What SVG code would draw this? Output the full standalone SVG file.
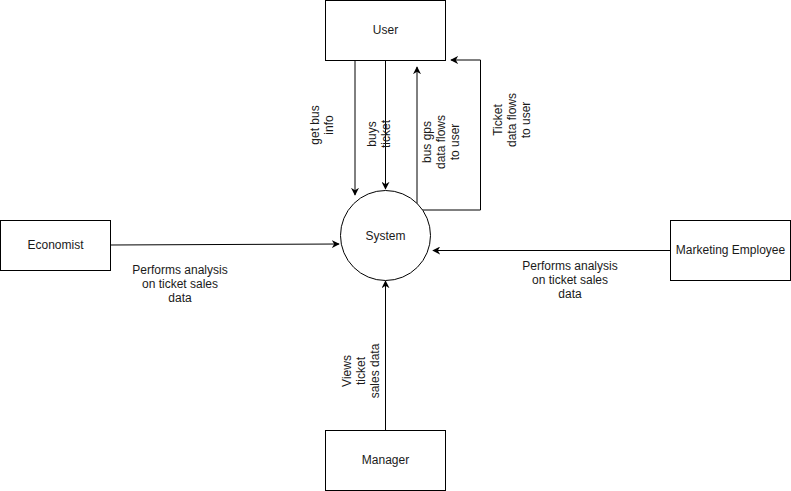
<svg xmlns="http://www.w3.org/2000/svg" width="791" height="491" viewBox="0 0 791 491">
<style>
.box{fill:#fff;stroke:#000;stroke-width:1}
.edge{fill:none;stroke:#000;stroke-width:1}
text{font-family:"Liberation Sans",Arial,Helvetica,sans-serif;font-size:12px;fill:#1a1a1a;text-anchor:middle}
</style>
<defs>
<marker id="arr" viewBox="0 0 10 10" refX="9" refY="5" markerWidth="8" markerHeight="8" markerUnits="userSpaceOnUse" orient="auto">
<path d="M0,0 L10,5 L0,10 L3,5 Z" fill="#000"/>
</marker>
</defs>
<rect width="791" height="491" fill="#fff"/>
<g id="connectors">
<path class="edge" d="M355,60 V195" marker-end="url(#arr)"/>
<path class="edge" d="M385.5,60 V189" marker-end="url(#arr)"/>
<path class="edge" d="M417,210 V67" marker-end="url(#arr)"/>
<path class="edge" d="M417,210 H480.5 V60 H451" marker-end="url(#arr)"/>
<path class="edge" d="M110,245 L339,244" marker-end="url(#arr)"/>
<path class="edge" d="M670,250.5 H433" marker-end="url(#arr)"/>
<path class="edge" d="M385.5,430 V281" marker-end="url(#arr)"/>
<text transform="translate(322,125) rotate(-90)"><tspan x="0" dy="-3">get bus</tspan><tspan x="0" dy="14">info</tspan></text>
<text transform="translate(379,134) rotate(-90)"><tspan x="0" dy="-3">buys</tspan><tspan x="0" dy="14">ticket</tspan></text>
<text transform="translate(441,142) rotate(-90)"><tspan x="0" dy="-10">bus gps</tspan><tspan x="0" dy="14">data flows</tspan><tspan x="0" dy="14">to user</tspan></text>
<text transform="translate(512,120) rotate(-90)"><tspan x="0" dy="-10">Ticket</tspan><tspan x="0" dy="14">data flows</tspan><tspan x="0" dy="14">to user</tspan></text>
<text transform="translate(361,371) rotate(-90)"><tspan x="0" dy="-10">Views</tspan><tspan x="0" dy="14">ticket</tspan><tspan x="0" dy="14">sales data</tspan></text>
<text x="180" y="274">Performs analysis<tspan x="180" dy="14">on ticket sales</tspan><tspan x="180" dy="14">data</tspan></text>
<text x="570" y="270">Performs analysis<tspan x="570" dy="14">on ticket sales</tspan><tspan x="570" dy="14">data</tspan></text>
</g>
<g id="user"><rect class="box" x="325.5" y="0.5" width="120" height="60"/><text x="385.5" y="34">User</text></g>
<g id="system"><circle class="box" cx="385.5" cy="235.5" r="45"/><text x="385.5" y="240">System</text></g>
<g id="economist"><rect class="box" x="0.5" y="220.5" width="110" height="50"/><text x="55.5" y="249">Economist</text></g>
<g id="marketing"><rect class="box" x="670.5" y="220.5" width="120" height="60"/><text x="730.5" y="254">Marketing Employee</text></g>
<g id="manager"><rect class="box" x="325.5" y="430.5" width="120" height="60"/><text x="385.5" y="464">Manager</text></g>
</svg>
